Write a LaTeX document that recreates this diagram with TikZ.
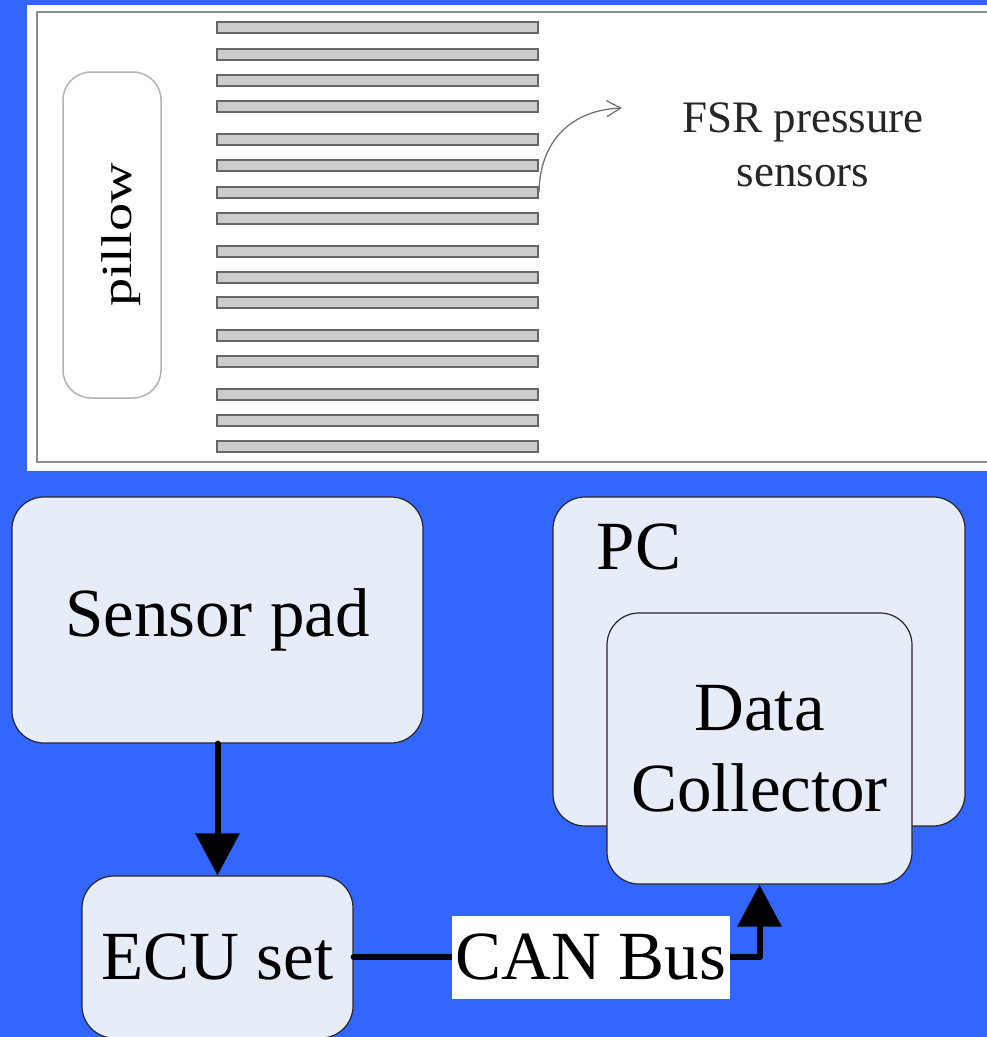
\documentclass[tikz,border=0pt]{standalone}
\usepackage{fontspec}
\setmainfont{Liberation Serif}
\usetikzlibrary{arrows.meta, positioning, calc}
\definecolor{bg_blue}{HTML}{3366FF}
\definecolor{box_fill}{HTML}{E6ECF8}
\tikzset{
  block_box/.style={rectangle, draw=black!85, fill=box_fill, line width=1.2pt, rounded corners=32pt, inner sep=0pt, align=center, font=\fontsize{69}{81}\selectfont},
  sensor_bar/.style={rectangle, draw=black!60, fill=black!20, line width=2pt, minimum width=321pt, minimum height=11pt, inner sep=0pt},
  pillow_box/.style={rectangle, draw=black!30, line width=1.5pt, rounded corners=28pt, minimum width=98pt, minimum height=326pt, inner sep=0pt},
  flow_arrow/.style={-{Triangle[length=42pt,width=43pt]}, line width=6pt, black, line cap=round, line join=round},
  thin_arrow/.style={-{Straight Barb[length=14pt,width=16pt]}, line width=1.3pt, black!55},
  label_text/.style={font=\fontsize{45}{54}\selectfont, text=black!85, align=center},
  bus_label/.style={fill=white, inner xsep=4pt, inner ysep=0pt, minimum height=83pt, font=\fontsize{69}{81}\selectfont}
}

\begin{document}
\begin{tikzpicture}[x=1pt, y=-1pt, >=Stealth]

  % Background
  \useasboundingbox (0,0) rectangle (987,1037);
  \fill[bg_blue] (0,0) rectangle (987,1037);

  % Sensor pad sketch
  \fill[white] (27,5) rectangle (995,471);
  \draw[black!45, line width=2.5pt] (37,12) rectangle (995,462);
  \node[pillow_box] (pillow) at (112,235) {};
  \node[rotate=90, font=\fontsize{43}{50}\selectfont] (pillow_text) at (121,235) {\scalebox{1.31}[1]{pillow}};

  % FSR strips
  \foreach \y [count=\i] in {27.5,54.5,80.5,106.5,139,165.5,192,218.5,251,277,302.5,335.5,361,394.5,420.5,446.5}
    \node[sensor_bar] (bar\i) at (377.5,\y) {};

  \node[label_text] (fsr) at (803,145) {FSR pressure\\sensors};
  \coordinate (fsr_tip) at (622,108);
  \draw[thin_arrow] (bar7.east) .. controls (540,140) and (572,110) .. (fsr_tip);

  % Blocks
  \node[block_box, minimum width=411pt, minimum height=246pt] (pad) at (217.5,620) {Sensor pad};
  \node[block_box, minimum width=271pt, minimum height=162pt] (ecu) at (217.5,957) {ECU set};
  \node[block_box, minimum width=412pt, minimum height=329pt] (pc) at (759,661.5) {};
  \node[font=\fontsize{69}{81}\selectfont] (pc_label) at (639,547) {PC};
  \node[block_box, minimum width=305pt, minimum height=271pt] (dc) at (759.5,748.5) {Data\\Collector};

  % Connections
  \draw[flow_arrow] (pad.south) -- (ecu.north);
  \draw[flow_arrow] (ecu.east) -- node[bus_label, pos=0.585] {CAN Bus} (ecu.east -| dc.south) -- (dc.south);

\end{tikzpicture}
\end{document}
